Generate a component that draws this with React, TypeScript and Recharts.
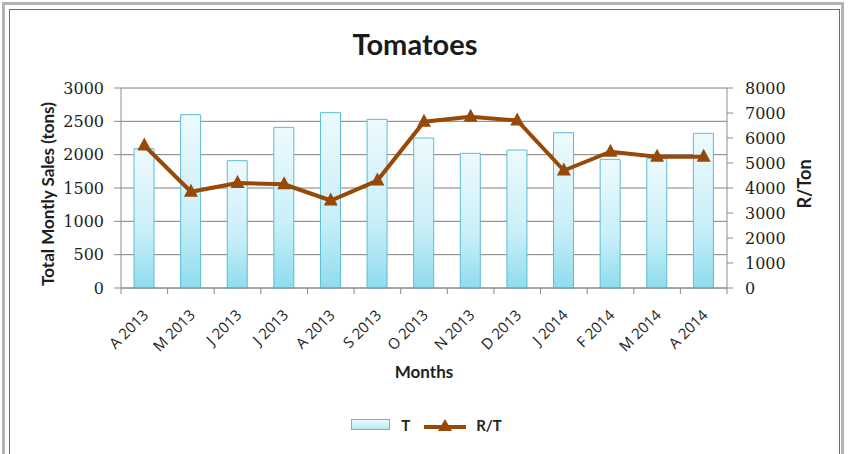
import React from 'react';
import { ComposedChart, Bar, Line, XAxis, YAxis, CartesianGrid, Legend } from 'recharts';

const months = [
  'A 2013', 'M 2013', 'J 2013', 'J 2013', 'A 2013', 'S 2013', 'O 2013',
  'N 2013', 'D 2013', 'J 2014', 'F 2014', 'M 2014', 'A 2014',
];
const tons = [2090, 2600, 1910, 2410, 2630, 2530, 2250, 2020, 2070, 2330, 1930, 1940, 2320];
const randPerTon = [5700, 3850, 4200, 4150, 3500, 4300, 6650, 6850, 6700, 4700, 5450, 5250, 5250];
const leftTicks = [0, 500, 1000, 1500, 2000, 2500, 3000];
const rightTicks = [0, 1000, 2000, 3000, 4000, 5000, 6000, 7000, 8000];

const data = months.map((m, i) => ({ month: m, T: tons[i], RT: randPerTon[i] }));

const W = 848;
const H = 454;
const MARGIN = { top: 88, right: 31, bottom: 19, left: 30 };
const LEFT_AXIS_W = 91;
const RIGHT_AXIS_W = 90;
const PLOT_LEFT = MARGIN.left + LEFT_AXIS_W;
const PLOT_RIGHT = W - MARGIN.right - RIGHT_AXIS_W;
const BAND = (PLOT_RIGHT - PLOT_LEFT) / months.length;

const BROWN = '#984807';
const AXIS = '#8c8c8c';
const LABEL_FONT = 'Lato, "Open Sans", sans-serif';
const CAT_FONT = '"Open Sans", Lato, sans-serif';
const NUM_FONT = '"DejaVu Serif", serif';

// category labels sit at 45° with tick marks between the bands
function MonthTick(props: any) {
  const { x, y, payload, index } = props;
  const last = index === months.length - 1;
  const tx = x - 4;
  const ty = y + 11;
  return (
    <g>
      <line x1={x - BAND / 2} x2={x - BAND / 2} y1={y - 8} y2={y - 2} stroke={AXIS} />
      {last && <line x1={x + BAND / 2} x2={x + BAND / 2} y1={y - 8} y2={y - 2} stroke={AXIS} />}
      <text
        x={tx}
        y={ty}
        transform={`rotate(-45, ${tx}, ${ty})`}
        textAnchor="end"
        dominantBaseline="hanging"
        fontFamily={CAT_FONT}
        fontSize={15}
        fill="#1e1e1e"
      >
        {payload.value}
      </text>
    </g>
  );
}

function NumTick(props: any) {
  const { x, y, payload, textAnchor } = props;
  return (
    <text
      x={x}
      y={y}
      textAnchor={textAnchor}
      dominantBaseline="central"
      fontFamily={NUM_FONT}
      fontSize={16}
      fill="#1e1e1e"
    >
      {payload.value}
    </text>
  );
}

function Triangle(props: any) {
  const { cx, cy, index } = props;
  if (cx == null || cy == null) return null;
  return (
    <path
      key={index}
      d={`M${cx},${cy - 8} L${cx + 7},${cy + 5} L${cx - 7},${cy + 5} Z`}
      fill={BROWN}
    />
  );
}

function LegendBox() {
  return (
    <div
      style={{
        height: 20,
        display: 'flex',
        justifyContent: 'center',
        alignItems: 'center',
        fontFamily: LABEL_FONT,
        fontWeight: 700,
        fontSize: 15,
        color: '#222',
        paddingLeft: 6,
      }}
    >
      <svg width={40} height={12} style={{ marginRight: 10 }}>
        <rect x={0.5} y={0.5} width={38} height={10} fill="url(#legendGrad)" stroke="#5bbcd3" />
        <defs>
          <linearGradient id="legendGrad" x1="0" y1="0" x2="0" y2="1">
            <stop offset="0%" stopColor="#f2fbfe" />
            <stop offset="100%" stopColor="#b3e6f3" />
          </linearGradient>
        </defs>
      </svg>
      <span style={{ marginRight: 14 }}>T</span>
      <svg width={42} height={16} style={{ marginRight: 10 }}>
        <line x1={0} x2={42} y1={10} y2={10} stroke={BROWN} strokeWidth={4} />
        <path d="M21,2 L28,14 L14,14 Z" fill={BROWN} />
      </svg>
      <span>R/T</span>
    </div>
  );
}

export default function App() {
  return (
    <div style={{ position: 'absolute', left: 0, top: 0, width: W, height: H, background: '#fff', overflow: 'hidden' }}>
      <div style={{ position: 'absolute', left: 2, top: 2, width: 836, height: 470, border: '3px solid #b4b4b4' }} />
      <div style={{ position: 'absolute', left: 9, top: 9, width: 829, height: 470, border: '1px solid #6e6e6e' }} />
      <div
        style={{
          position: 'absolute',
          left: 0,
          width: 830,
          top: 26,
          textAlign: 'center',
          fontFamily: LABEL_FONT,
          fontWeight: 700,
          fontSize: 29,
          color: '#1a1a1a',
        }}
      >
        Tomatoes
      </div>
      <ComposedChart width={W} height={H} data={data} margin={MARGIN}>
        <defs>
          <linearGradient id="barGrad" x1="0" y1="0" x2="0" y2="1">
            <stop offset="0%" stopColor="#eefafd" />
            <stop offset="60%" stopColor="#c9eff8" />
            <stop offset="100%" stopColor="#8fdcef" />
          </linearGradient>
        </defs>
        <CartesianGrid vertical={false} stroke="#7f7f7f" yAxisId="left" />
        <XAxis
          dataKey="month"
          height={127}
          interval={0}
          tickLine={false}
          axisLine={{ stroke: AXIS }}
          tick={<MonthTick />}
          label={{
            content: (p: any) => (
              <text
                x={(PLOT_LEFT + PLOT_RIGHT) / 2}
                y={p.viewBox.y + 90}
                textAnchor="middle"
                fontFamily={LABEL_FONT}
                fontWeight={700}
                fontSize={17}
                fill="#1e1e1e"
              >
                Months
              </text>
            ),
          }}
        />
        <YAxis
          yAxisId="left"
          width={LEFT_AXIS_W}
          domain={[0, 3000]}
          ticks={leftTicks}
          interval={0}
          tickSize={7}
          tickMargin={10}
          axisLine={{ stroke: AXIS }}
          tickLine={{ stroke: AXIS }}
          tick={<NumTick />}
          label={{
            content: () => (
              <text
                x={47}
                y={194}
                transform="rotate(-90, 47, 194)"
                textAnchor="middle"
                dominantBaseline="central"
                fontFamily={LABEL_FONT}
                fontWeight={700}
                fontSize={17}
                fill="#1e1e1e"
              >
                Total Montly Sales (tons)
              </text>
            ),
          }}
        />
        <YAxis
          yAxisId="right"
          orientation="right"
          width={RIGHT_AXIS_W}
          domain={[0, 8000]}
          ticks={rightTicks}
          interval={0}
          tickSize={6}
          tickMargin={12}
          axisLine={{ stroke: AXIS }}
          tickLine={{ stroke: AXIS }}
          tick={<NumTick />}
          label={{
            content: () => (
              <text
                x={804}
                y={184}
                transform="rotate(-90, 804, 184)"
                textAnchor="middle"
                dominantBaseline="central"
                fontFamily={LABEL_FONT}
                fontWeight={700}
                fontSize={18}
                fill="#1e1e1e"
              >
                R/Ton
              </text>
            ),
          }}
        />
        <Legend verticalAlign="bottom" content={() => <LegendBox />} />
        <Bar
          yAxisId="left"
          dataKey="T"
          name="T"
          barSize={20}
          fill="url(#barGrad)"
          stroke="#5bbcd3"
          strokeWidth={1}
          isAnimationActive={false}
        />
        <Line
          yAxisId="right"
          dataKey="RT"
          name="R/T"
          type="linear"
          stroke={BROWN}
          strokeWidth={4}
          dot={<Triangle />}
          activeDot={false}
          isAnimationActive={false}
        />
      </ComposedChart>
    </div>
  );
}
